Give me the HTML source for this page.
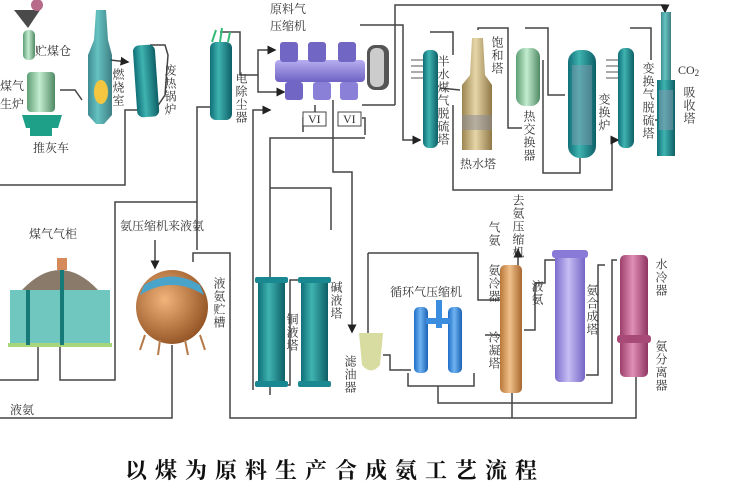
<!DOCTYPE html>
<html><head><meta charset="utf-8"><style>
html,body{margin:0;padding:0;background:#fff;width:750px;height:500px;overflow:hidden}
text{font-family:"Liberation Serif","Noto Serif CJK SC",serif;fill:#333;font-size:12px}
.v{writing-mode:vertical-rl;letter-spacing:1px}
</style></head><body>
<svg width="750" height="500" viewBox="0 0 750 500" xmlns="http://www.w3.org/2000/svg">
<defs>
<linearGradient id="teal" x1="0" x2="1"><stop offset="0" stop-color="#0f6f78"/><stop offset=".4" stop-color="#3fb3b0"/><stop offset="1" stop-color="#0d5f66"/></linearGradient>
<linearGradient id="tan" x1="0" x2="1"><stop offset="0" stop-color="#9c8550"/><stop offset=".45" stop-color="#e6d6a8"/><stop offset="1" stop-color="#8f7846"/></linearGradient>
<linearGradient id="grn" x1="0" x2="1"><stop offset="0" stop-color="#5d9f74"/><stop offset=".45" stop-color="#c4ecd0"/><stop offset="1" stop-color="#4f8a64"/></linearGradient>
<linearGradient id="pur" x1="0" x2="0" y1="0" y2="1"><stop offset="0" stop-color="#b7aef0"/><stop offset="1" stop-color="#6e62c4"/></linearGradient>
<linearGradient id="pur2" x1="0" x2="1"><stop offset="0" stop-color="#7d6ccf"/><stop offset=".45" stop-color="#c6bdf3"/><stop offset="1" stop-color="#7565c6"/></linearGradient>
<linearGradient id="org" x1="0" x2="1"><stop offset="0" stop-color="#b9773a"/><stop offset=".45" stop-color="#f0c08a"/><stop offset="1" stop-color="#a8672e"/></linearGradient>
<linearGradient id="pink" x1="0" x2="1"><stop offset="0" stop-color="#9c3f6c"/><stop offset=".45" stop-color="#e08fb6"/><stop offset="1" stop-color="#8f3562"/></linearGradient>
<linearGradient id="blue" x1="0" x2="1"><stop offset="0" stop-color="#1f6fc8"/><stop offset=".45" stop-color="#6fb3f0"/><stop offset="1" stop-color="#1a62b5"/></linearGradient>
<radialGradient id="sph" cx=".4" cy=".4" r=".7"><stop offset="0" stop-color="#f2b47a"/><stop offset="1" stop-color="#8a4a1c"/></radialGradient>
<marker id="a" markerWidth="6" markerHeight="6" refX="5" refY="3" orient="auto"><path d="M0,0L6,3L0,6z" fill="#222"/></marker>
</defs>

<g stroke="#444" stroke-width="1.5" fill="none">
<polyline points="140,110 125,110 125,185 0,185"/>
<polyline points="60,90 75,90 82,100"/>
<polyline points="110,60 128,62" marker-end="url(#a)"/>
<polyline points="150,45 165,45 168,55 165,95 155,110"/>
<polyline points="220,32 240,32 240,75 258,75 258,50 275,50" marker-end="url(#a)"/>
<polyline points="258,75 258,92 284,92" marker-end="url(#a)"/>
<polyline points="197,250 197,107 210,107"/>
<polyline points="197,202 115,202 115,380 60,380 60,345"/>
<polyline points="38,340 38,380 0,380"/>
<polyline points="253,390 253,110 270,110" marker-end="url(#a)"/>
<polyline points="270,395 270,138 365,138"/>
<polyline points="315,105 315,118 303,118 303,132"/>
<polyline points="362,118 365,118 365,135"/>
<polyline points="333,100 333,172 352,172 352,332" marker-end="url(#a)"/>
<polyline points="270,188 331,188 331,230"/>
<polyline points="395,105 395,5 665,5 665,12" marker-end="url(#a)"/>
<polyline points="395,105 362,105"/>
<polyline points="360,25 403,25 403,140 420,140" marker-end="url(#a)"/>
<polyline points="430,32 453,32 453,55"/>
<polyline points="440,88 460,90"/>
<polyline points="453,105 453,190 612,190 612,140 618,140" marker-end="url(#a)"/>
<polyline points="478,30 478,28 508,28 508,128 522,128"/>
<polyline points="525,28 548,28 548,95 565,95"/>
<polyline points="543,60 543,173 580,173 580,158"/>
<polyline points="630,28 651,28 651,60"/>
<polyline points="655,120 668,120"/>
<polyline points="0,418 172,418 172,345"/>
<polyline points="636,377 636,418 230,418 230,253 193,253 193,262"/>
<polyline points="155,240 155,268" marker-end="url(#a)"/>
<polyline points="285,385 290,385 290,280 301,280"/>
<polyline points="368,253 368,333"/>
<polyline points="368,253 478,253 478,300 500,300"/>
<polyline points="383,355 390,355 390,370 411,370"/>
<polyline points="408,373 408,386 474,386 474,373"/>
<polyline points="438,386 438,403 612,403 612,260 617,260"/>
<polyline points="524,330 535,330 535,283 545,283 545,260 555,260"/>
<polyline points="518,290 518,250" marker-end="url(#a)"/>
<polyline points="500,335 485,335"/>
<polyline points="586,375 598,375 598,265 605,265"/>
<polyline points="512,393 512,418"/>
</g>

<path d="M14,10 L40,10 L28,28z" fill="#4a4a4a"/>
<circle cx="37" cy="5" r="6" fill="#b76a8a"/>
<rect x="23" y="30" width="12" height="30" rx="5" fill="url(#grn)"/>
<rect x="27" y="72" width="28" height="40" rx="4" fill="url(#grn)"/>
<path d="M22,115 L62,115 L58,128 L26,128z" fill="#1e9f88"/>
<rect x="30" y="128" width="22" height="8" fill="#1e9f88"/>
<path d="M96,10 L106,10 L108,40 L112,55 L112,115 L104,124 L96,124 L88,115 L88,55 L94,40z" fill="url(#teal)" opacity=".8"/>
<ellipse cx="101" cy="92" rx="7" ry="12" fill="#f5c640"/>
<rect x="135" y="45" width="22" height="72" rx="6" fill="url(#teal)" transform="rotate(-4 146 80)"/>
<rect x="210" y="42" width="22" height="78" rx="6" fill="url(#teal)"/>
<path d="M212,42 L216,30 M220,42 L222,28 M228,42 L230,32" stroke="#3b7" stroke-width="2"/>
<rect x="275" y="60" width="90" height="22" rx="4" fill="url(#pur)"/>
<rect x="280" y="42" width="18" height="20" rx="3" fill="#7266c4"/>
<rect x="308" y="42" width="18" height="20" rx="3" fill="#7266c4"/>
<rect x="338" y="42" width="18" height="20" rx="3" fill="#7266c4"/>
<rect x="285" y="82" width="18" height="18" rx="3" fill="#7266c4"/>
<rect x="313" y="82" width="18" height="18" rx="3" fill="#8b80d8"/>
<rect x="340" y="82" width="18" height="18" rx="3" fill="#8b80d8"/>
<rect x="367" y="45" width="22" height="45" rx="8" fill="#555"/>
<rect x="370" y="48" width="14" height="39" rx="6" fill="#ccc"/>
<rect x="303" y="112" width="23" height="14" fill="#fff" stroke="#444"/>
<rect x="338" y="112" width="23" height="14" fill="#fff" stroke="#444"/>
<text x="308" y="123" font-size="10">VI</text><text x="343" y="123" font-size="10">VI</text>
<rect x="423" y="50" width="15" height="98" rx="6" fill="url(#teal)"/>
<path d="M411,60h12M411,66h12M411,72h12M411,78h12" stroke="#555"/>
<path d="M472,38 L483,38 L485,75 L492,85 L492,150 L462,150 L462,85 L470,75z" fill="url(#tan)"/>
<rect x="462" y="115" width="30" height="15" fill="#889" opacity=".5"/>
<rect x="516" y="48" width="24" height="58" rx="9" fill="url(#grn)"/>
<rect x="568" y="50" width="28" height="108" rx="12" fill="url(#teal)"/>
<rect x="572" y="65" width="20" height="80" fill="#8a9ab0" opacity=".45"/>
<rect x="618" y="48" width="16" height="100" rx="7" fill="url(#teal)"/>
<path d="M606,60h12M606,66h12M606,72h12M606,78h12" stroke="#555"/>
<rect x="661" y="12" width="10" height="70" fill="url(#teal)" opacity=".8"/>
<rect x="657" y="80" width="18" height="76" fill="url(#teal)"/>
<rect x="659" y="90" width="14" height="40" fill="#8a9ab0" opacity=".5"/>
<rect x="10" y="290" width="100" height="55" fill="#6fc7c0"/>
<rect x="8" y="343" width="104" height="4" fill="#a7d77a"/>
<path d="M22,290 Q60,250 98,290z" fill="#8a7a6a"/>
<rect x="26" y="290" width="4" height="55" fill="#167a78"/><rect x="60" y="265" width="4" height="80" fill="#167a78"/>
<rect x="57" y="258" width="10" height="12" fill="#d48a5a"/>
<ellipse cx="172" cy="307" rx="36" ry="37" fill="url(#sph)"/>
<path d="M140,295 Q172,275 204,295 L200,285 Q172,268 144,285z" fill="#4aa3c8"/>
<path d="M145,335 L140,350 M200,335 L205,350 M160,340 L158,355 M185,340 L188,355" stroke="#b57a4a" stroke-width="2"/>
<rect x="258" y="277" width="27" height="110" rx="4" fill="url(#teal)"/>
<rect x="301" y="277" width="27" height="110" rx="4" fill="url(#teal)"/>
<rect x="255" y="277" width="33" height="6" rx="2" fill="#1a8890"/><rect x="255" y="381" width="33" height="6" rx="2" fill="#1a8890"/>
<rect x="298" y="277" width="33" height="6" rx="2" fill="#1a8890"/><rect x="298" y="381" width="33" height="6" rx="2" fill="#1a8890"/>
<path d="M359,333 L383,333 L380,365 Q371,376 362,365z" fill="#d9dca0"/>
<rect x="414" y="307" width="14" height="66" rx="5" fill="url(#blue)"/>
<rect x="448" y="307" width="14" height="66" rx="5" fill="url(#blue)"/>
<rect x="436" y="300" width="6" height="28" fill="#3b8de0"/>
<rect x="426" y="318" width="24" height="6" fill="#3b8de0"/>
<rect x="500" y="265" width="22" height="128" rx="5" fill="url(#org)"/>
<rect x="555" y="252" width="30" height="130" rx="5" fill="url(#pur2)"/>
<rect x="552" y="250" width="36" height="8" rx="3" fill="#8a7ad8"/>
<rect x="620" y="255" width="28" height="122" rx="5" fill="url(#pink)"/>
<rect x="617" y="335" width="34" height="8" rx="3" fill="#a84a78"/>
<text x="35" y="55">贮煤仓</text>
<text x="0" y="90">煤气</text><text x="0" y="108">生炉</text>
<text x="33" y="152">推灰车</text>
<text class="v" x="118" y="68">燃烧室</text>
<text class="v" x="170" y="64">废热锅炉</text>
<text class="v" x="241" y="72">电除尘器</text>
<text x="270" y="13">原料气</text><text x="270" y="30">压缩机</text>
<text class="v" x="443" y="55">半水煤气脱硫塔</text>
<text class="v" x="497" y="36">饱和塔</text>
<text x="460" y="168">热水塔</text>
<text class="v" x="529" y="110">热交换器</text>
<text class="v" x="604" y="93">变换炉</text>
<text class="v" x="648" y="62">变换气脱硫塔</text>
<text x="678" y="74">CO<tspan font-size="9" dy="2">2</tspan></text>
<text class="v" x="689" y="86">吸收塔</text>
<text x="29" y="238">煤气气柜</text>
<text x="120" y="230">氨压缩机来液氨</text>
<text class="v" x="219" y="277">液氨贮槽</text>
<text class="v" x="292" y="313">铜液塔</text>
<text class="v" x="336" y="281">碱液塔</text>
<text class="v" x="350" y="355">滤油器</text>
<text x="390" y="296">循环气压缩机</text>
<text class="v" x="494" y="221">气氨</text>
<text class="v" x="494" y="264">氨冷器</text>
<text class="v" x="494" y="331">冷凝塔</text>
<text class="v" x="518" y="194">去氨压缩机</text>
<text class="v" x="537" y="280">液氨</text>
<text class="v" x="592" y="284">氨合成塔</text>
<text class="v" x="661" y="258">水冷器</text>
<text class="v" x="661" y="340">氨分离器</text>
<text x="10" y="414">液氨</text>
<text x="125" y="478" style="font-size:22px;letter-spacing:8px;fill:#111;font-weight:bold">以煤为原料生产合成氨工艺流程</text>
</svg>
</body></html>
